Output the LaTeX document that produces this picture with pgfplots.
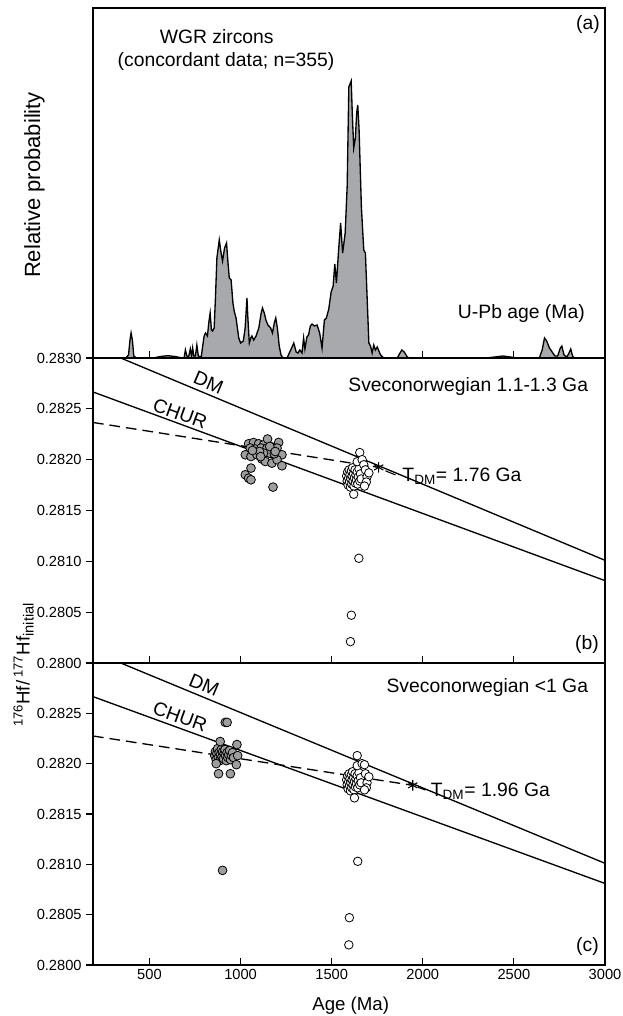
\documentclass[border=0pt]{standalone}
\usepackage{fontspec}
\setmainfont{Liberation Sans}
\usepackage{pgfplots}
\pgfplotsset{compat=1.18}
\definecolor{pdfill}{RGB}{167,169,172}
\definecolor{ptgray}{RGB}{158,158,158}
\newcommand\ann{\fontsize{14.5}{17}\selectfont}
\newcommand\tkf{\fontsize{11}{13}\selectfont}

\pgfplotsset{
  panel/.style={
    scale only axis, width=384pt,
    xmin=190, xmax=3000,
    xtick={500,1000,1500,2000,2500,3000},
    xtick pos=bottom, ytick pos=left,
    xtick align=inside, ytick align=outside,
    major tick length=5pt,
    axis line style={line width=1.1pt},
    every tick/.style={black, line width=0.8pt},
    clip mode=individual,
    /pgf/number format/assume math mode=true,
    xticklabel style={font=\tkf, /pgf/number format/1000 sep={}},
    yticklabel style={font=\tkf, /pgf/number format/fixed,
      /pgf/number format/fixed zerofill, /pgf/number format/precision=4},
    scaled y ticks=false,
    ymin=0.2800, ymax=0.2830,
  },
  model/.style={black, line width=1pt},
  evo/.style={black, line width=1pt, dash pattern=on 8pt off 4.5pt},
  grayhf/.style={only marks, mark=*, mark size=3.3pt,
    mark options={fill=ptgray, draw=black, line width=0.6pt}},
  whitehf/.style={only marks, mark=*, mark size=3.2pt,
    mark options={fill=white, draw=black, line width=0.6pt}},
  tdm/.style={only marks, mark=asterisk, mark size=4pt,
    mark options={line width=0.8pt, black}},
}

\begin{document}
\begin{tikzpicture}
\path[use as bounding box] (-69.75pt,-38.25pt) rectangle (396.75pt,723.75pt);

% (a) probability density
\begin{axis}[panel, name=pa, at={(0pt,455.25pt)}, anchor=south west,
    height=262.5pt, ymin=0, ymax=350, ytick=\empty, xticklabels={}]
  \addplot[draw=black, line width=1pt, fill=pdfill] coordinates {
    (190,0) (370,0) (385,3) (393,18) (399,25) (406,18) (414,2) (428,0)
    (520,0) (560,1.5) (600,2.3) (640,1.5) (680,0) (690,0) (697,8) (706,1.5)
    (716,2) (724,9) (731,2) (737,10) (743,2) (752,2) (760,13) (768,2) (784,1)
    (792,12) (800,22) (808,25) (818,22) (826,36) (833,45) (840,28) (846,27)
    (855,30) (862,60) (870,100) (883,118) (893,105) (901,97) (912,110)
    (923,115) (931,95) (938,80) (948,78) (958,55) (965,47) (975,40) (990,20)
    (1000,15) (1015,17) (1025,30) (1035,60) (1040,40) (1048,15) (1056,20)
    (1062,22) (1072,18) (1085,22) (1100,30) (1113,45) (1120,50) (1130,45)
    (1139,38) (1150,33) (1165,30) (1175,25) (1185,35) (1193,40) (1202,30)
    (1212,12) (1222,3) (1233,0) (1255,0) (1280,10) (1292,15) (1305,6)
    (1315,5) (1325,8) (1337,5) (1346,20) (1353,9) (1364,21) (1373,23)
    (1383,32) (1392,34) (1405,32) (1420,33) (1434,25) (1447,10) (1460,38)
    (1471,40) (1484,49) (1497,66) (1508,72) (1517,94) (1526,75) (1538,108)
    (1549,135) (1560,105) (1574,125) (1585,172) (1594,271) (1607,277)
    (1614,240) (1621,210) (1630,220) (1637,245) (1643,253) (1650,230)
    (1663,151) (1676,108) (1685,105) (1695,58) (1704,15) (1713,12) (1722,5)
    (1731,13) (1740,8) (1750,11) (1768,3) (1786,0) (1860,0) (1872,4)
    (1885,8) (1898,6) (1915,1) (1925,0) (2350,0) (2440,2) (2520,0) (2640,0)
    (2655,8) (2668,20) (2680,17) (2695,10) (2710,6) (2725,2) (2740,2)
    (2755,10) (2763,12) (2775,3) (2790,1) (2800,4) (2812,9) (2822,2)
    (2830,0) (3000,0)} \closedcycle;
\end{axis}

% (b) Sveconorwegian 1.1-1.3 Ga
\begin{axis}[panel, name=pb, at={(0pt,226.5pt)}, anchor=south west,
    height=228.75pt, xticklabels={},
    ytick={0.2800,0.2805,0.2810,0.2815,0.2820,0.2825,0.2830}]
  \addplot[model] coordinates {(190,0.283114) (3000,0.281010)};
  \addplot[model] coordinates {(190,0.282666) (3000,0.280810)};
  \addplot[evo] coordinates {(190,0.282366) (1758,0.281924)};
  \addplot[grayhf] coordinates {
    (1044,0.282156) (1071,0.282169) (1099,0.282156) (1126,0.282146)
    (1148,0.282203) (1209,0.282169) (1053,0.282114) (1081,0.282104)
    (1112,0.282114) (1145,0.282114) (1172,0.282124) (1200,0.282114)
    (1227,0.282048) (1026,0.282048) (1057,0.282031) (1090,0.282048)
    (1117,0.282006) (1136,0.281982) (1172,0.281966) (1200,0.281999)
    (1227,0.281940) (1057,0.281917) (1026,0.281851) (1044,0.281818)
    (1057,0.281802) (1178,0.281730) (1159,0.282065) (1185,0.282058)
    (1126,0.282065) (1104,0.282080) (1065,0.282090) (1160,0.282130)
    (1110,0.282030) (1190,0.282080)};
  \addplot[whitehf] coordinates {
    (1582,0.28184) (1585,0.28179) (1588,0.28188) (1590,0.28175) (1593,0.28182)
    (1596,0.28190) (1598,0.28178) (1600,0.28185) (1603,0.28173) (1605,0.28181)
    (1608,0.28189) (1610,0.28176) (1612,0.28184) (1615,0.28192) (1617,0.28179)
    (1620,0.28186) (1622,0.28174) (1625,0.28182) (1628,0.28190) (1630,0.28177)
    (1633,0.28185) (1636,0.28180) (1640,0.28188) (1643,0.28176) (1646,0.28183)
    (1650,0.28191) (1654,0.28179) (1658,0.28186) (1662,0.28181)
    (1654,0.28207) (1640,0.28198) (1667,0.28200) (1676,0.28195) (1685,0.28190)
    (1694,0.28183) (1704,0.28187) (1690,0.28178) (1680,0.28174) (1621,0.28166)
    (1649,0.28103) (1608,0.28047) (1603,0.28021)};
  \addplot[tdm] coordinates {(1758,0.281924)};
  \draw[line width=0.8pt] (axis cs:1795,0.28189) -- (axis cs:1850,0.28185);
  \node[anchor=west, inner sep=0pt] at (axis cs:1887,0.28184)
    {\ann T\textsubscript{DM}= 1.76 Ga};
  \node[rotate=-23, inner sep=0pt] at (axis cs:824,0.28276) {\ann DM};
  \node[rotate=-20, inner sep=0pt] at (axis cs:668,0.282452) {\ann CHUR};
\end{axis}

% (c) Sveconorwegian <1 Ga
\begin{axis}[panel, name=pc, at={(0pt,0pt)}, anchor=south west,
    height=226.5pt,
    ytick={0.2800,0.2805,0.2810,0.2815,0.2820,0.2825}]
  \addplot[model] coordinates {(190,0.283114) (3000,0.281010)};
  \addplot[model] coordinates {(190,0.282666) (3000,0.280810)};
  \addplot[evo] coordinates {(190,0.282275) (1945,0.281785)};
  \addplot[grayhf] coordinates {
    (858,0.28208) (862,0.28212) (866,0.28204) (870,0.28210) (874,0.28215)
    (878,0.28206) (882,0.28211) (886,0.28203) (890,0.28209) (894,0.28214)
    (898,0.28207) (902,0.28212) (906,0.28205) (910,0.28210) (914,0.28214)
    (918,0.28208) (922,0.28203) (926,0.28211) (930,0.28206) (935,0.28209)
    (940,0.28213) (945,0.28204) (950,0.28208) (956,0.28211) (962,0.28206)
    (888,0.28222) (980,0.28219) (984,0.28208) (977,0.28199) (866,0.28200)
    (879,0.28190) (944,0.28190) (916,0.28241) (926,0.28241) (901,0.28094)};
  \addplot[whitehf] coordinates {
    (1582,0.28184) (1585,0.28179) (1588,0.28188) (1590,0.28175) (1593,0.28182)
    (1596,0.28190) (1598,0.28178) (1600,0.28185) (1603,0.28173) (1605,0.28181)
    (1608,0.28189) (1610,0.28176) (1612,0.28184) (1615,0.28192) (1617,0.28179)
    (1620,0.28186) (1622,0.28174) (1625,0.28182) (1628,0.28190) (1630,0.28177)
    (1633,0.28185) (1636,0.28180) (1640,0.28188) (1643,0.28176) (1646,0.28183)
    (1650,0.28191) (1654,0.28179) (1658,0.28186) (1662,0.28181)
    (1640,0.28208) (1640,0.28198) (1667,0.28200) (1680,0.28199) (1685,0.28190)
    (1694,0.28181) (1704,0.28187) (1690,0.28176) (1680,0.28174) (1625,0.28166)
    (1643,0.28103) (1597,0.28047) (1594,0.28020)};
  \addplot[tdm] coordinates {(1945,0.281785)};
  \draw[line width=0.8pt] (axis cs:1973,0.281765) -- (axis cs:2015,0.281738);
  \node[anchor=west, inner sep=0pt] at (axis cs:2043,0.281722)
    {\ann T\textsubscript{DM}= 1.96 Ga};
  \node[rotate=-23, inner sep=0pt] at (axis cs:800,0.282781) {\ann DM};
  \node[rotate=-20, inner sep=0pt] at (axis cs:668,0.282467) {\ann CHUR};
\end{axis}

% panel texts and axis titles
\node[inner sep=0pt] at (92.8pt,696.2pt) {\ann WGR zircons};
\node[inner sep=0pt] at (99.75pt,677.5pt) {\ann (concordant data; n=355)};
\node[anchor=east, inner sep=0pt] at (380.25pt,705pt) {\ann (a)};
\node[anchor=east, inner sep=0pt] at (369pt,488.8pt) {\ann U-Pb age (Ma)};
\node[anchor=east, inner sep=0pt] at (371.5pt,433.8pt) {\ann Sveconorwegian 1.1-1.3 Ga};
\node[anchor=east, inner sep=0pt] at (379.5pt,240pt) {\ann (b)};
\node[anchor=east, inner sep=0pt] at (371.5pt,208.3pt) {\ann Sveconorwegian <1 Ga};
\node[anchor=east, inner sep=0pt] at (379.5pt,13.7pt) {\ann (c)};
\node[inner sep=0pt] at (193.3pt,-30.75pt) {\fontsize{14}{16}\selectfont Age (Ma)};
\node[rotate=90, inner sep=0pt] at (-44pt,585pt)
  {\fontsize{16.5}{19}\selectfont Relative probability};
\node[rotate=90, inner sep=0pt] at (-52pt,225pt)
  {\fontsize{14}{16}\selectfont \textsuperscript{176}Hf/\,\textsuperscript{177}Hf\raisebox{-0.4ex}{\fontsize{11}{12}\selectfont initial}};
\end{tikzpicture}
\end{document}
